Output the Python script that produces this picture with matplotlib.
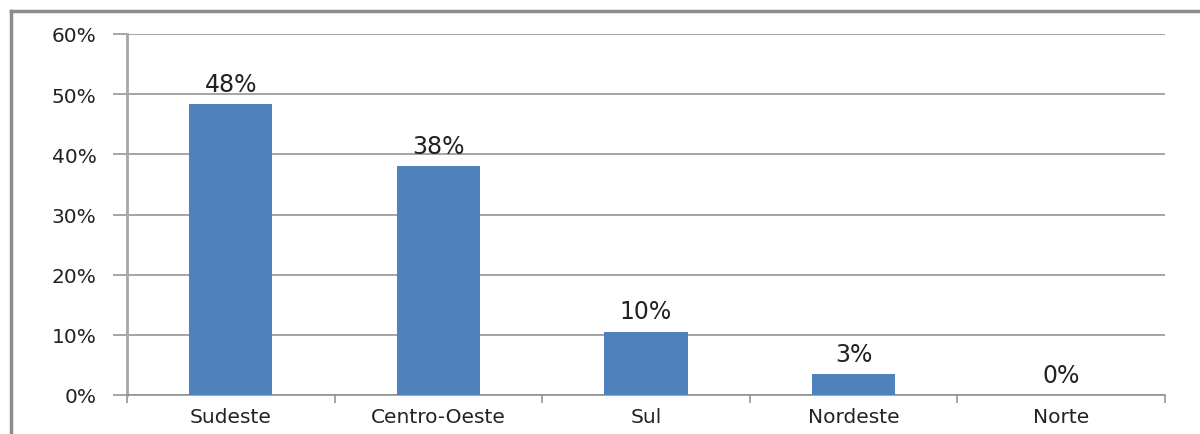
import matplotlib.pyplot as plt
from matplotlib.lines import Line2D
from matplotlib.ticker import FuncFormatter, FixedLocator

# data
regioes = ['Sudeste', 'Centro-Oeste', 'Sul', 'Nordeste', 'Norte']
valores = [0.483, 0.38, 0.105, 0.035, 0.0]
rotulos = ['48%', '38%', '10%', '3%', '0%']

W, H = 1200, 435
fig = plt.figure(figsize=(12, 4.35), dpi=100)
ax = fig.add_axes([127 / W, 1 - 396 / H, (1165 - 127) / W, (396 - 35) / H])

x = list(range(len(regioes)))
ax.bar(x, valores, width=0.4, color='#4F81BD', zorder=3)
for xi, v, r in zip(x, valores, rotulos):
    ax.annotate(r, (xi, v), xytext=(0, 6), textcoords='offset points',
                ha='center', va='bottom', fontsize=17, color='#222222')

ax.set_xlim(-0.5, len(regioes) - 0.5)
ax.set_ylim(0, 0.6)
ax.set_yticks([i / 10 for i in range(7)])
ax.yaxis.set_major_formatter(FuncFormatter(lambda v, p: '{:.0f}%'.format(v * 100)))
ax.grid(axis='y', color='#8c8c8c', linewidth=1.1, zorder=0)

ax.set_xticks(x)
ax.set_xticklabels(regioes, fontsize=14.5, color='#222222')
ax.tick_params(axis='x', length=0, pad=9)
ax.xaxis.set_minor_locator(FixedLocator([i - 0.5 for i in range(len(regioes) + 1)]))
ax.tick_params(axis='x', which='minor', length=6, color='#8c8c8c', width=1.1)
ax.tick_params(axis='y', length=10, color='#8c8c8c', width=1.1, labelsize=14.5,
               labelcolor='#222222', pad=12)

for s in ['top', 'right']:
    ax.spines[s].set_visible(False)
ax.spines['left'].set_color('#a6a6a6')
ax.spines['left'].set_linewidth(2)
ax.spines['bottom'].set_color('#8c8c8c')
ax.spines['bottom'].set_linewidth(1.1)

# outer frame
fig.add_artist(Line2D([11 / W, 11 / W], [0, 1 - 12 / H], color='#8c8c8c', linewidth=2.5))
fig.add_artist(Line2D([11 / W, 1], [1 - 12 / H, 1 - 12 / H], color='#8c8c8c', linewidth=2.5))

fig.savefig('out.png', dpi=100)
